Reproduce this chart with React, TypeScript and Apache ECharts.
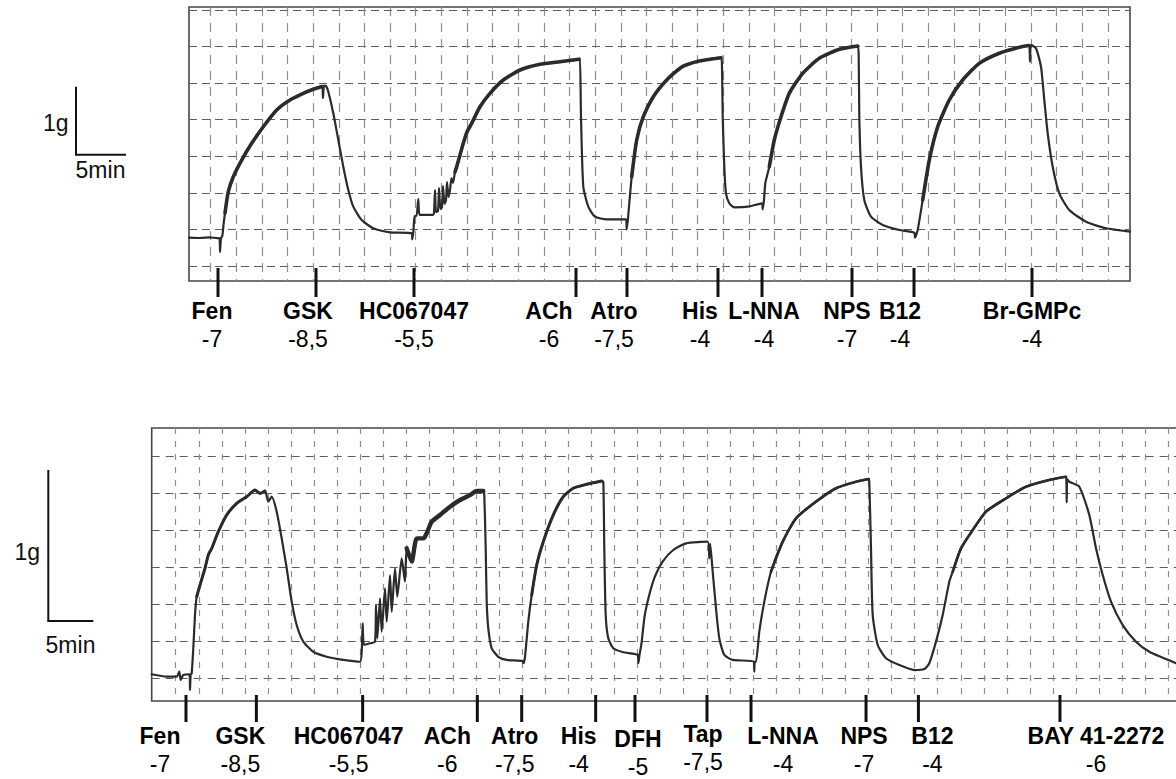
import { useEffect, useRef } from "react";
import * as echarts from "echarts";

// Isometric tension recordings: [time (min), force (g)]
const topTrace: [number, number][] = [
  [0, 0.637], [1.1, 0.632], [2.1, 0.643], [2.7, 0.632], [3.05, 0.628], [3.1, 0.426], [3.2, 0.632],
  [3.33, 0.662], [3.45, 0.824], [3.6, 1.0], [3.93, 1.313], [4.43, 1.534], [5.27, 1.779], [6.27, 2.025],
  [7.43, 2.269], [8.77, 2.515], [10.1, 2.662], [11.43, 2.76], [12.43, 2.819], [13.3, 2.86], [13.4, 2.691],
  [13.5, 2.872], [13.7, 2.868], [13.93, 2.784], [14.43, 2.466], [14.93, 2.074], [15.43, 1.681],
  [15.93, 1.338], [16.43, 1.093], [17.27, 0.897], [18.43, 0.775], [20.1, 0.716], [22.27, 0.701],
  [22.33, 0.613], [22.45, 0.75], [22.55, 0.956], [22.75, 0.956], [22.93, 1.206], [23.05, 0.971],
  [23.6, 0.971], [24.4, 0.971], [24.5, 1.0], [24.6, 1.338], [24.7, 1.015], [24.9, 1.029], [25.0, 1.368],
  [25.15, 1.059], [25.3, 1.088], [25.4, 1.397], [25.55, 1.132], [25.7, 1.191], [25.8, 1.456],
  [25.95, 1.235], [26.1, 1.338], [26.25, 1.515], [26.4, 1.441], [26.6, 1.603], [26.77, 1.681],
  [27.1, 1.853], [27.43, 2.025], [27.8, 2.191], [28.27, 2.319], [29.1, 2.563], [30.1, 2.76],
  [31.43, 2.956], [33.1, 3.103], [35.1, 3.187], [37.1, 3.225], [39.0, 3.26], [39.1, 3.275],
  [39.2, 2.416], [39.43, 1.387], [39.93, 1.093], [40.6, 0.946], [41.77, 0.907], [43.7, 0.907],
  [43.77, 0.76], [43.9, 0.922], [44.27, 1.534], [44.77, 2.074], [45.43, 2.416], [46.43, 2.71],
  [47.77, 2.956], [49.1, 3.128], [49.7, 3.176], [51.03, 3.235], [53.2, 3.284], [53.3, 3.151],
  [53.37, 2.416], [53.53, 1.681], [53.7, 1.29], [54.03, 1.143], [54.53, 1.084], [55.87, 1.093],
  [57.3, 1.143], [57.37, 1.054], [57.5, 1.191], [57.63, 1.437], [58.03, 1.681], [58.53, 2.074],
  [59.2, 2.416], [60.03, 2.76], [61.37, 3.054], [63.03, 3.275], [65.03, 3.407], [66.87, 3.456],
  [66.97, 3.299], [67.03, 2.416], [67.2, 1.681], [67.53, 1.191], [68.2, 0.946], [69.37, 0.824],
  [71.03, 0.75], [72.53, 0.71], [72.6, 0.637], [72.87, 0.75], [73.37, 1.191], [74.03, 1.779],
  [74.87, 2.269], [76.03, 2.662], [77.37, 2.956], [79.03, 3.201], [81.03, 3.349], [83.03, 3.437],
  [84.0, 3.463], [84.1, 3.225], [84.2, 3.471], [84.7, 3.422], [85.2, 3.151], [85.53, 2.662],
  [85.87, 2.172], [86.37, 1.681], [87.03, 1.29], [88.03, 1.044], [89.7, 0.872], [91.7, 0.775],
  [94.1, 0.725],
];

const bottomTrace: [number, number][] = [
  [0, 0.177], [1.667, 0.161], [2.778, 0.161], [3.067, 0.194], [3.222, 0.139], [3.511, 0.172],
  [4.2, 0.177], [4.256, 0.073], [4.33, 0.177], [4.444, 0.183], [4.622, 0.349], [4.811, 0.57],
  [5.0, 0.691], [5.367, 0.768], [5.922, 0.879], [6.289, 0.967], [6.667, 1.011], [7.4, 1.121],
  [8.333, 1.232], [9.444, 1.309], [10.556, 1.353], [11.478, 1.397], [12.033, 1.375], [12.589, 1.391],
  [12.956, 1.32], [13.333, 1.353], [13.889, 1.254], [14.444, 1.077], [15.0, 0.879], [15.556, 0.658],
  [16.111, 0.503], [16.844, 0.393], [17.956, 0.326], [19.444, 0.293], [21.289, 0.272], [23.144, 0.26],
  [23.333, 0.326], [23.444, 0.515], [23.589, 0.371], [24.256, 0.382], [24.811, 0.393], [24.922, 0.636],
  [25.067, 0.415], [25.367, 0.68], [25.556, 0.459], [25.922, 0.746], [26.111, 0.525], [26.478, 0.834],
  [26.667, 0.591], [27.033, 0.879], [27.289, 0.691], [27.778, 0.945], [28.144, 0.79], [28.333, 1.011],
  [28.889, 0.923], [29.444, 1.077], [30.178, 1.077], [31.111, 1.187], [32.033, 1.232], [33.144, 1.287],
  [34.256, 1.331], [35.367, 1.364], [36.111, 1.391], [36.844, 1.391], [36.956, 1.364], [37.111, 1.011],
  [37.222, 0.658], [37.4, 0.481], [37.778, 0.349], [38.511, 0.293], [39.444, 0.272], [41.222, 0.265],
  [41.3, 0.25], [41.478, 0.293], [41.844, 0.525], [42.222, 0.702], [42.778, 0.901], [43.511, 1.055],
  [44.622, 1.232], [45.733, 1.353], [46.844, 1.409], [48.333, 1.435], [50.0, 1.457], [50.178, 1.452],
  [50.289, 1.011], [50.444, 0.57], [50.733, 0.415], [51.289, 0.349], [52.4, 0.323], [54.0, 0.305],
  [54.078, 0.25], [54.2, 0.305], [54.4, 0.371], [54.789, 0.57], [55.378, 0.724], [55.978, 0.834],
  [56.767, 0.923], [57.944, 1.0], [59.367, 1.044], [61.778, 1.055], [61.956, 0.945], [62.05, 1.04],
  [62.333, 0.856], [62.7, 0.614], [63.067, 0.415], [63.622, 0.305], [64.556, 0.272], [66.9, 0.26],
  [66.956, 0.194], [67.0, 0.26], [67.144, 0.26], [67.511, 0.459], [68.067, 0.658], [68.811, 0.856],
  [70.111, 1.055], [71.589, 1.21], [73.811, 1.32], [76.033, 1.409], [78.256, 1.452], [79.667, 1.47],
  [79.733, 1.452], [79.922, 1.011], [80.111, 0.57], [80.667, 0.371], [81.589, 0.283], [83.067, 0.238],
  [84.733, 0.205], [85.844, 0.212], [86.4, 0.25], [87.144, 0.393], [87.889, 0.57], [88.622, 0.79],
  [89.0, 0.856], [89.922, 1.011], [91.222, 1.132], [92.7, 1.254], [94.922, 1.342], [97.144, 1.419],
  [99.733, 1.464], [101.589, 1.485], [101.667, 1.316], [101.72, 1.47], [101.956, 1.452],
  [103.067, 1.419], [104.178, 1.232], [104.922, 1.011], [105.667, 0.834], [106.589, 0.658],
  [107.889, 0.503], [109.367, 0.393], [110.844, 0.326], [112.333, 0.287], [113.811, 0.25],
];

// Drug additions: time (min), agent, log concentration
const topEventMin = [2.9, 12.7, 22.5, 38.7, 43.8, 52.9, 57.3, 66.3, 72.5, 84.3];
const topDrugs = ["Fen", "GSK", "HC067047", "ACh", "Atro", "His", "L-NNA", "NPS", "B12", "Br-GMPc"];
const topDoses = ["-7", "-8,5", "-5,5", "-6", "-7,5", "-4", "-4", "-7", "-4", "-4"];

const bottomEventMin = [3.81, 11.63, 23.44, 36.18, 41.11, 49.33, 53.7, 61.7, 66.59, 79.37, 85.19, 100.92];
const bottomDrugs = ["Fen", "GSK", "HC067047", "ACh", "Atro", "His", "DFH", "Tap", "L-NNA", "NPS", "B12", "BAY 41-2272"];
const bottomDoses = ["-7", "-8,5", "-5,5", "-6", "-7,5", "-4", "-5", "-7,5", "-4", "-7", "-4", "-6"];

// Label nudges (px) so neighbouring captions do not collide
const topLabelShift = [[-6, 0], [-8, 0], [0, 0], [-27, 0], [-13, 0], [-18, 0], [2, 0], [-5, 0], [-14, 0], [0, 0]];
const bottomLabelShift = [[-26, 0], [-16, 0], [-14, 0], [-30, 0], [-7, 0], [-17, 0], [3, 3], [-4, -2], [32, 0], [-2, 0], [14, 0], [36, 0]];

// Stretches of the pen trace that are drawn heavier (noisy plateaus): [from, to, width]
const topHeavy = [[3.6, 13.3, 3.6], [26.6, 39.0, 3.6], [44.27, 53.2, 3.6], [58.0, 66.87, 3.6], [73.37, 84.0, 3.6]];
const bottomHeavy = [[5.0, 12.6, 3.0], [28.3, 36.85, 4.4], [42.2, 50.0, 3.0], [68.8, 79.67, 2.7], [89.0, 101.589, 2.7]];

const FONT = "'Liberation Sans', Arial, Helvetica, sans-serif";

interface PanelLayout {
  left: number;
  top: number;
  width: number;
  height: number;
  pxPerMin: number;
  pxPerG: number;
  vFirst: number;
  vStep: number;
  vDash: number[];
  hLast: number;
  hStep: number;
  hDash: number[];
  markTop: number;
  markHeight: number;
  traceWidth: number;
  scaleX: number;
  scaleBottom: number;
  gText: [number, number];
  minText: [number, number];
}

const topLayout: PanelLayout = {
  left: 189, top: 7, width: 941, height: 274, pxPerMin: 10, pxPerG: 68,
  vFirst: 210.7, vStep: 25.63, vDash: [9, 7], hLast: 266, hStep: 36.57, hDash: [8, 5],
  markTop: 268, markHeight: 29, traceWidth: 2.2,
  scaleX: 76, scaleBottom: 154.7, gText: [68.5, 122.7], minText: [100.5, 170],
};

const bottomLayout: PanelLayout = {
  left: 151.7, top: 428, width: 1038.3, height: 273, pxPerMin: 9, pxPerG: 151,
  vFirst: 175.7, vStep: 23.09, vDash: [6, 7], hLast: 678.3, hStep: 37.05, hDash: [8, 6],
  markTop: 695, markHeight: 27, traceWidth: 2.2,
  scaleX: 48.3, scaleBottom: 621, gText: [40, 551.7], minText: [70.5, 645],
};

function buildPanel(
  L: PanelLayout,
  trace: [number, number][],
  heavy: number[][],
  events: number[],
  drugs: string[],
  doses: string[],
  shifts: number[][],
  gi: number
) {
  const right = L.left + L.width;
  const tMax = L.width / L.pxPerMin;
  const gMax = L.height / L.pxPerG;
  const vLeft = L.vFirst - L.vStep;
  const hBottom = L.hLast + L.hStep;

  const grids = [
    { left: L.left, top: L.top, width: L.width, height: L.height, show: true, borderColor: "#474747", borderWidth: 1.6, backgroundColor: "transparent" },
    { left: vLeft, top: L.top, width: right - vLeft, height: L.height },
    { left: L.left, top: L.top, width: L.width, height: hBottom - L.top },
    { left: L.left, top: L.markTop, width: L.width, height: L.markHeight },
  ];
  const off = { show: false };
  const xAxes = [
    { gridIndex: gi, type: "value", min: 0, max: tMax, show: false },
    {
      gridIndex: gi + 1, type: "value", min: 0, max: (right - vLeft) / L.vStep, interval: 1,
      axisLine: off, axisTick: off, axisLabel: off,
      splitLine: { show: true, showMinLine: false, showMaxLine: false, lineStyle: { color: "#8e8e8e", width: 1.2, type: L.vDash } },
    },
    { gridIndex: gi + 2, type: "value", min: 0, max: 1, show: false },
    { gridIndex: gi + 3, type: "value", min: 0, max: tMax, show: false },
  ];
  const yAxes = [
    { gridIndex: gi, type: "value", min: 0, max: gMax, show: false },
    { gridIndex: gi + 1, type: "value", min: 0, max: 1, show: false },
    {
      gridIndex: gi + 2, type: "value", min: 0, max: (hBottom - L.top) / L.hStep, interval: 1,
      axisLine: off, axisTick: off, axisLabel: off,
      splitLine: { show: true, showMinLine: false, showMaxLine: false, lineStyle: { color: "#5e5e5e", width: 1.2, type: L.hDash } },
    },
    { gridIndex: gi + 3, type: "value", min: 0, max: 1, show: false },
  ];
  const traceLine = (data: [number, number][], width: number) => ({
    type: "line", xAxisIndex: gi, yAxisIndex: gi, data, showSymbol: false, symbol: "none",
    smooth: 0.2,
    lineStyle: { color: "#2b2b2b", width, join: "round", cap: "round" }, z: 5,
  });
  const series: any[] = [
    traceLine(trace, L.traceWidth),
    ...heavy.map(([a, b, w]) => traceLine(trace.filter(([t]) => t >= a && t <= b), w)),
    {
      type: "bar", xAxisIndex: gi + 3, yAxisIndex: gi + 3, barWidth: 3,
      data: events.map((t, i) => ({ value: [t, 1], label: { offset: shifts[i] } })),
      itemStyle: { color: "#111" }, z: 6,
      label: {
        show: true, position: "bottom", distance: 0, color: "#000",
        formatter: (p: any) => `{n|${drugs[p.dataIndex]}}\n{v|${doses[p.dataIndex]}}`,
        rich: {
          n: { fontFamily: FONT, fontWeight: "bold", fontSize: 23, lineHeight: 28, color: "#000" },
          v: { fontFamily: FONT, fontSize: 23, lineHeight: 28, color: "#000" },
        },
      },
    },
  ];

  // Calibration bars: 1 g vertical, 5 min horizontal
  const ink = { stroke: "#111", lineWidth: 2 };
  const txt = (text: string, pos: [number, number], align: string) => ({
    type: "text", x: pos[0], y: pos[1],
    style: { text, font: `23px ${FONT}`, fill: "#111", textAlign: align, textVerticalAlign: "middle", align, verticalAlign: "middle" },
  });
  const graphics = [
    { type: "line", shape: { x1: L.scaleX, y1: L.scaleBottom - 1 * L.pxPerG, x2: L.scaleX, y2: L.scaleBottom }, style: ink },
    { type: "line", shape: { x1: L.scaleX - 1, y1: L.scaleBottom, x2: L.scaleX + 5 * L.pxPerMin, y2: L.scaleBottom }, style: ink },
    txt("1g", L.gText, "right"),
    txt("5min", L.minText, "center"),
  ];
  return { grids, xAxes, yAxes, series, graphics };
}

export default function App() {
  const ref = useRef<HTMLDivElement>(null);
  useEffect(() => {
    if (!ref.current) return;
    const chart = echarts.init(ref.current, undefined, { renderer: "svg" });
    const a = buildPanel(topLayout, topTrace, topHeavy, topEventMin, topDrugs, topDoses, topLabelShift, 0);
    const b = buildPanel(bottomLayout, bottomTrace, bottomHeavy, bottomEventMin, bottomDrugs, bottomDoses, bottomLabelShift, 4);
    chart.setOption({
      animation: false,
      backgroundColor: "#ffffff",
      textStyle: { fontFamily: FONT },
      grid: [...a.grids, ...b.grids],
      xAxis: [...a.xAxes, ...b.xAxes],
      yAxis: [...a.yAxes, ...b.yAxes],
      series: [...a.series, ...b.series],
      graphic: { elements: [...a.graphics, ...b.graphics] },
    } as any);
    return () => chart.dispose();
  }, []);
  // The lower recording runs past the right edge of the page, so the chart is wider than its frame
  return (
    <div style={{ position: "absolute", left: 0, top: 0, width: 1176, height: 779, overflow: "hidden", background: "#fff" }}>
      <div ref={ref} style={{ width: 1210, height: 779 }} />
    </div>
  );
}
